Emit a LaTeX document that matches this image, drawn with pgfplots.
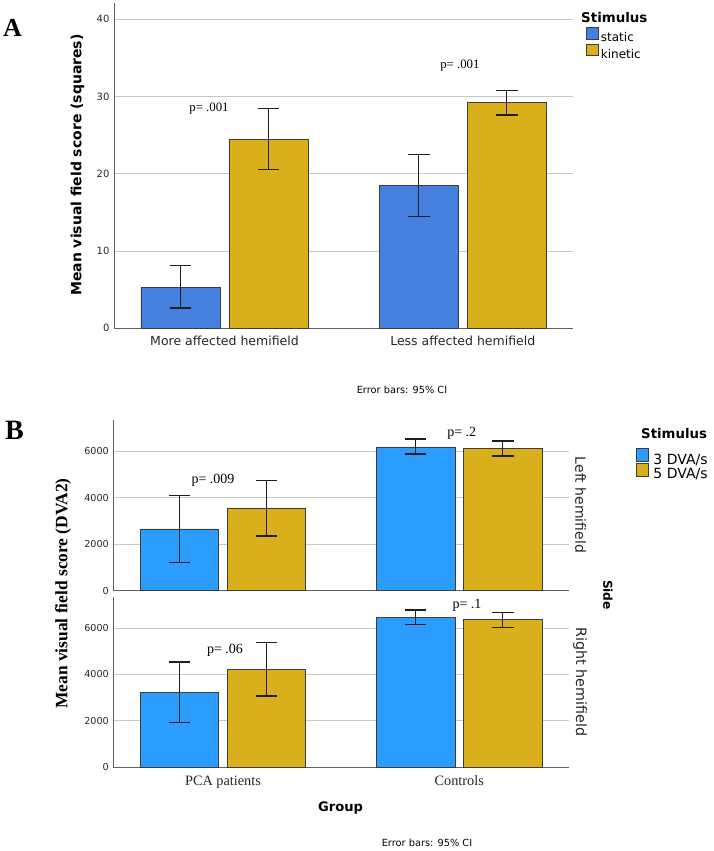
\documentclass[border=0pt]{standalone}
\usepackage{fontspec}
\setmainfont{Liberation Serif}
\setsansfont{DejaVu Sans}
\usepackage{pgfplots}
\pgfplotsset{compat=1.18}

\definecolor{staticblue}{RGB}{70,128,222}
\definecolor{kingold}{RGB}{217,176,28}
\definecolor{dvablue}{RGB}{42,157,255}
\definecolor{gridgray}{RGB}{200,200,200}
\definecolor{axisgray}{RGB}{95,95,95}
\definecolor{barline}{RGB}{60,60,60}
\definecolor{errline}{RGB}{30,30,30}

\newcommand\fs[1]{\fontsize{#1}{#1}\selectfont}

\pgfplotsset{
  spssbar/.style={draw=barline, line width=0.7pt,
    error bars/y dir=both, error bars/y explicit,
    error bars/error bar style={line width=1.2pt, draw=errline},
    error bars/error mark options={rotate=90, line width=1.2pt, draw=errline, mark size=10.8pt}},
  spssaxis/.style={scale only axis, axis lines=left, ybar, bar width=0.332,
    axis line style={-, draw=axisgray, line width=0.9pt},
    ymin=0, ymajorgrids, grid style={draw=gridgray, line width=0.9pt},
    major tick length=0pt, xtick={0,1},
    /pgf/number format/assume math mode=true, /pgf/number format/1000 sep={},
    yticklabel style={font=\sffamily\fs{10}, text=black!85, anchor=east, xshift=-1pt},
    clip=false},
  swatchA/.style={legend image code/.code={\draw[##1, draw=barline, line width=0.7pt]
      (0pt,-1.2pt) rectangle (12pt,10pt);}},
  swatchB/.style={legend image code/.code={\draw[##1, draw=barline, line width=0.7pt]
      (0pt,-1.8pt) rectangle (12pt,11.2pt);}}
}

\begin{document}
\begin{tikzpicture}
\useasboundingbox (0,0) rectangle (714pt,-851pt);

% ---------------- Panel A ----------------
\begin{axis}[spssaxis,
  at={(114pt,-328.3pt)}, anchor=south west, width=459pt, height=325.3pt,
  xmin=-0.4637, xmax=1.4625, ymax=42.1, ytick={0,10,20,30,40},
  xticklabels={More affected hemifield, Less affected hemifield},
  xticklabel style={font=\sffamily\fs{12.5}, text=black!85, anchor=base, yshift=-17.2pt},
  legend cell align=left,
  legend style={at={(1.0283,0.9256)}, anchor=north west, font=\sffamily\fs{12},
    draw=none, fill=none, inner sep=0pt, row sep=0.8pt, nodes={inner ysep=0pt}}]
\addplot[spssbar, fill=staticblue, bar shift=-0.1845, forget plot]
  coordinates {(0,5.34) += (0,2.76) -= (0,2.71) (1,18.45) += (0,4.05) -= (0,4.01)};
\addplot[spssbar, fill=kingold, bar shift=0.1845, forget plot]
  coordinates {(0,24.45) += (0,3.95) -= (0,3.85) (1,29.2) += (0,1.6) -= (0,1.6)};
\addlegendimage{fill=staticblue, swatchA}\addlegendentry{static}
\addlegendimage{fill=kingold, swatchA}\addlegendentry{kinetic}
\node[font=\fs{12.8}] at (axis cs:-0.065,28.37) {p= .001};
\node[font=\fs{12.8}] at (axis cs:0.988,33.97) {p= .001};
\end{axis}

% ---------------- Panel B, left hemifield ----------------
\begin{axis}[spssaxis,
  at={(113.3pt,-590.7pt)}, anchor=south west, width=456pt, height=170.7pt,
  xmin=-0.4642, xmax=1.4656, ymax=7340, ytick={0,2000,4000,6000},
  xticklabels={}, yticklabel style={font=\sffamily\fs{9.6}},
  legend cell align=left,
  legend style={at={(1.1463,0.836)}, anchor=north west, font=\sffamily\fs{14},
    draw=none, fill=none, inner sep=0pt, row sep=-3pt,
    nodes={inner ysep=0pt, inner xsep=4.5pt}}]
\addplot[spssbar, fill=dvablue, bar shift=-0.1845, forget plot]
  coordinates {(0,2654) += (0,1449) -= (0,1433) (1,6181) += (0,344) -= (0,301)};
\addplot[spssbar, fill=kingold, bar shift=0.1845, forget plot]
  coordinates {(0,3557) += (0,1191) -= (0,1204) (1,6108) += (0,331) -= (0,315)};
\addlegendimage{fill=dvablue, swatchB}\addlegendentry{3 DVA/s}
\addlegendimage{fill=kingold, swatchB}\addlegendentry{5 DVA/s}
\node[font=\fs{14}] at (axis cs:-0.0423,4761) {p= .009};
\node[font=\fs{14}] at (axis cs:1.0102,6783) {p= .2};
\end{axis}

% ---------------- Panel B, right hemifield ----------------
\begin{axis}[spssaxis,
  at={(113.3pt,-767.3pt)}, anchor=south west, width=456pt, height=170.3pt,
  xmin=-0.4642, xmax=1.4656, ymax=7340, ytick={0,2000,4000,6000},
  xticklabels={PCA patients, Controls},
  xticklabel style={font=\fs{14.3}, text=black!85, anchor=base, yshift=-17.7pt},
  yticklabel style={font=\sffamily\fs{9.6}}]
\addplot[spssbar, fill=dvablue, bar shift=-0.1845]
  coordinates {(0,3233) += (0,1306) -= (0,1311) (1,6466) += (0,314) -= (0,302)};
\addplot[spssbar, fill=kingold, bar shift=0.1845]
  coordinates {(0,4224) += (0,1164) -= (0,1151) (1,6362) += (0,319) -= (0,328)};
\node[font=\fs{14}] at (axis cs:0.0085,5056) {p= .06};
\node[font=\fs{14}] at (axis cs:1.0326,6996) {p= .1};
\end{axis}

% ---------------- titles and annotations ----------------
\node[font=\bfseries\fs{26}, anchor=base west, inner sep=0pt] at (3pt,-37pt) {A};
\node[font=\bfseries\fs{28}, anchor=base west, inner sep=0pt] at (5pt,-439pt) {B};
\node[font=\sffamily\bfseries\fs{13.4}, anchor=base west, inner sep=0pt] at (581pt,-22.5pt) {Stimulus};
\node[font=\sffamily\bfseries\fs{13.3}, anchor=base west, inner sep=0pt] at (641pt,-438.5pt) {Stimulus};
\node[rotate=90, font=\sffamily\bfseries\fs{14}] at (77.5pt,-165pt) {Mean visual field score (squares)};
\node[rotate=90, font=\bfseries\fs{17.4}] at (63pt,-593.5pt) {Mean visual field score (DVA2)};
\node[rotate=-90, font=\sffamily\fs{14}, text=black!85] at (580.5pt,-505pt) {Left hemifield};
\node[rotate=-90, font=\sffamily\fs{14.3}, text=black!85] at (580pt,-682pt) {Right hemifield};
\node[rotate=-90, font=\sffamily\bfseries\fs{12.2}] at (608pt,-595pt) {Side};
\node[font=\sffamily\bfseries\fs{13.1}] at (340.5pt,-808pt) {Group};
\node[font=\sffamily\fs{9.8}] at (402pt,-390pt) {Error bars: 95\% CI};
\node[font=\sffamily\fs{9.8}] at (427pt,-843pt) {Error bars: 95\% CI};
\end{tikzpicture}
\end{document}
